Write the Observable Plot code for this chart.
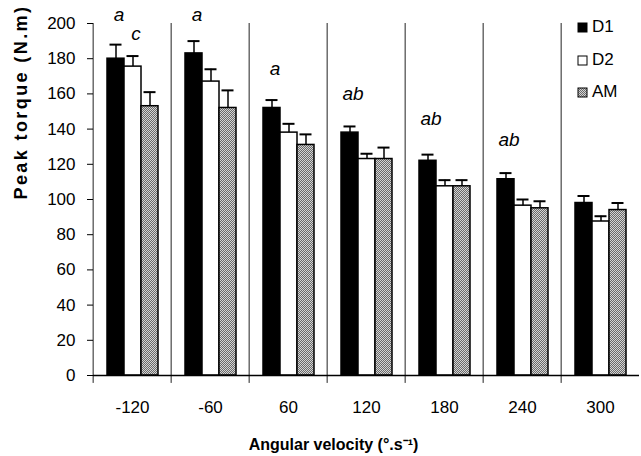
<!DOCTYPE html>
<html>
<head>
<meta charset="utf-8">
<script src="https://cdn.jsdelivr.net/npm/d3@7"></script>
<script src="https://cdn.jsdelivr.net/npm/@observablehq/plot@0.6"></script>
<style>
  html, body { margin: 0; padding: 0; background: white; }
  #wrap { position: relative; width: 641px; height: 456px; font-family: "Liberation Sans", Arial, sans-serif; }
  .leg { position: absolute; left: 577px; display: flex; align-items: center; font-size: 17px; color: black; }
  .ylab text { letter-spacing: 2.4px; }
</style>
</head>
<body>
<svg width="0" height="0" style="position:absolute">
  <defs>
    <pattern id="amPat" width="2" height="2" patternUnits="userSpaceOnUse">
      <rect width="2" height="2" fill="#d4d4d4"></rect>
      <rect x="0" y="0" width="1" height="1" fill="#6a6a6a"></rect>
      <rect x="1" y="1" width="1" height="1" fill="#6a6a6a"></rect>
    </pattern>
  </defs>
</svg>
<div id="wrap"></div>
<script>
// ---- data ----
const groups = ["-120", "-60", "60", "120", "180", "240", "300"];
const series = ["D1", "D2", "AM"];
const d1   = [180, 183, 152, 138, 122, 111.5, 98];
const d1Sd = [8, 7, 4.5, 3.5, 3.5, 3.5, 4];
const d2   = [175.5, 167, 138, 123, 107.5, 96.5, 87.5];
const d2Sd = [6, 7, 5, 3, 3.5, 3.5, 3];
const am   = [153, 152, 131, 123, 107.5, 95, 94];
const amSd = [8, 10, 6, 6.5, 3.5, 4, 4];
const yTicks = [0, 20, 40, 60, 80, 100, 120, 140, 160, 180, 200];
const letterGroup  = ["-120", "-120", "-60", "60", "120", "180", "240"];
const letterSeries = ["D1", "D2", "D1", "D1", "D1", "D1", "D1"];
const letterY      = [205, 194, 205, 174, 160, 146, 134];
const letterText   = ["a", "c", "a", "a", "ab", "ab", "ab"];
const fills = {D1: "black", D2: "white", AM: "url(#amPat)"};

// ---- tables ----
const vals = {D1: d1, D2: d2, AM: am};
const sds = {D1: d1Sd, D2: d2Sd, AM: amSd};
const rows = [];
groups.forEach((g, i) => series.forEach(s => rows.push({group: g, series: s, value: vals[s][i], top: vals[s][i] + sds[s][i]})));
const letters = letterText.map((t, i) => ({group: letterGroup[i], series: letterSeries[i], y: letterY[i], text: t}));

const W = 641, H = 456, ML = 90, MT = 23, MB = 81;
const fw = (W - ML) / groups.length;

const chart = Plot.plot({
  width: W, height: H,
  marginLeft: ML, marginRight: 0, marginTop: MT, marginBottom: MB,
  style: {fontFamily: "'Liberation Sans', Arial, sans-serif", fontSize: "17px", color: "black", background: "white", overflow: "visible"},
  fx: {domain: groups, padding: 0, axis: null, label: null},
  x: {domain: series, paddingInner: 0, paddingOuter: 0.736, axis: null},
  y: {domain: [0, 200], axis: null},
  marks: [
    Plot.barY(rows, {fx: "group", x: "series", y: "value", fill: d => fills[d.series], stroke: "black", strokeWidth: 1.5}),
    Plot.ruleX(rows, {fx: "group", x: "series", y1: "value", y2: "top", stroke: "black", strokeWidth: 1.5}),
    Plot.tickY(rows, {fx: "group", x: "series", y: "top", stroke: "black", strokeWidth: 2, insetLeft: 2.5, insetRight: 2.5}),
    Plot.ruleX(groups, {fx: d => d, x: null, y1: -4.5, y2: 200, dx: -fw / 2, stroke: "#222", strokeWidth: 1}),
    Plot.ruleY([0], {stroke: "black", strokeWidth: 1.5}),
    Plot.text(letters, {fx: "group", x: "series", y: "y", text: "text", fontStyle: "italic", fontSize: 19, dx: 3}),
    Plot.axisY({anchor: "left", ticks: yTicks, tickSize: 6, tickPadding: 12, fontSize: 17, label: null}),
    Plot.text(["Peak torque (N.m)"], {fx: () => groups[0], frameAnchor: "left", rotate: -90, dx: -72, dy: 0, fontWeight: "bold", fontSize: 18, className: "ylab"}),
    Plot.axisFx({anchor: "bottom", tickSize: 0, tickPadding: 25, fontSize: 17, label: null}),
    Plot.text(["Angular velocity (°.s⁻¹)"], {fx: () => groups[3], frameAnchor: "bottom", dy: 74, dx: -33, fontWeight: "bold", fontSize: 16})
  ]
});
const wrap = document.getElementById("wrap");
wrap.appendChild(chart);

// legend (overlay inside the plot area, as in the reference)
const legTops = [27, 60, 92];
series.forEach((s, i) => {
  const row = document.createElement("div");
  row.className = "leg";
  row.style.top = (legTops[i] - 10) + "px";
  row.style.height = "20px";
  const sw = document.createElementNS("http://www.w3.org/2000/svg", "svg");
  sw.setAttribute("width", 11); sw.setAttribute("height", 11);
  sw.style.marginRight = "4px";
  const r = document.createElementNS("http://www.w3.org/2000/svg", "rect");
  r.setAttribute("x", 1); r.setAttribute("y", 1); r.setAttribute("width", 9); r.setAttribute("height", 9);
  r.setAttribute("fill", fills[s]); r.setAttribute("stroke", "black"); r.setAttribute("stroke-width", 1);
  sw.appendChild(r);
  row.appendChild(sw);
  row.appendChild(document.createTextNode(s));
  wrap.appendChild(row);
});
</script>
</body>
</html>
